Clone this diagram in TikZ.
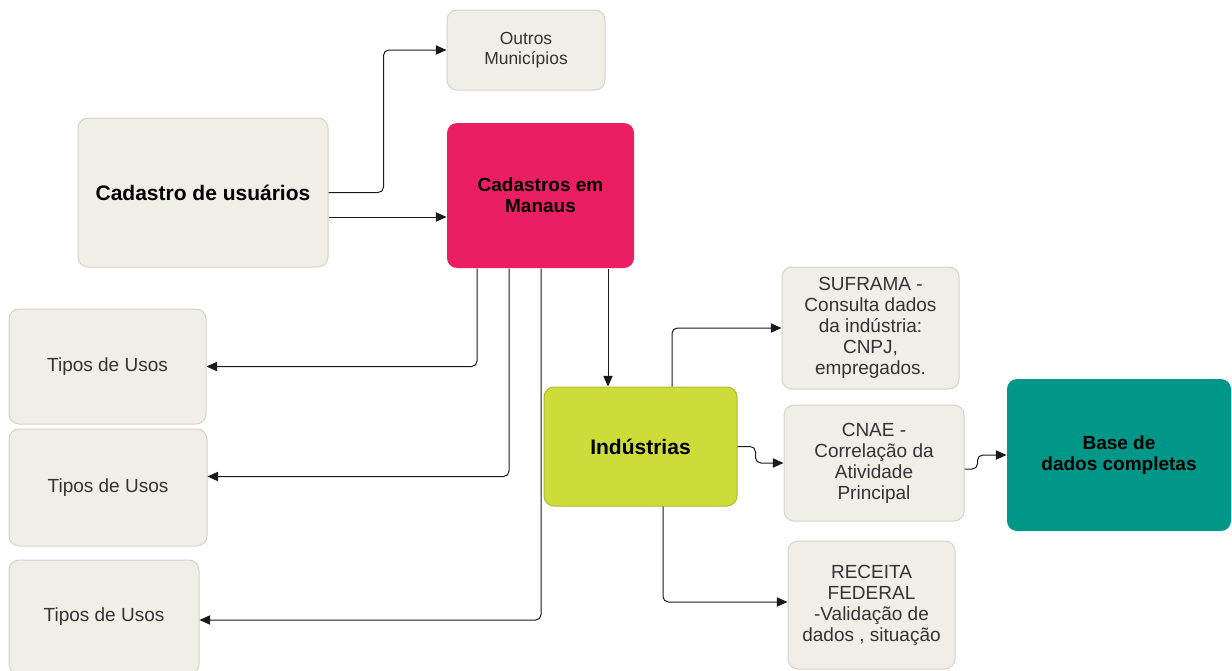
\documentclass[tikz,border=0pt]{standalone}
\usepackage{fontspec}
\setmainfont{Liberation Sans}
\usepackage{tikz}
\usetikzlibrary{arrows.meta,calc}

\definecolor{boxfill}{HTML}{F0EEE6}
\definecolor{boxline}{HTML}{D5D2C8}
\definecolor{txtgray}{HTML}{333333}
\definecolor{pinkbox}{HTML}{E91E63}
\definecolor{limebox}{HTML}{CDDC39}
\definecolor{tealbox}{HTML}{009688}
\definecolor{wire}{HTML}{1A1A1A}

\begin{document}
\begin{tikzpicture}[x=0.75pt,y=-0.75pt,
	card/.style={draw=boxline,fill=boxfill,rounded corners=7.5pt,line width=0.75pt,align=center,text=txtgray,
		font=\fontsize{14.25}{15.75}\selectfont,inner sep=2pt},
	hotbox/.style={card,draw=none,text=black,font=\bfseries\fontsize{14.25}{15.75}\selectfont},
	wirepath/.style={draw=wire,line width=0.75pt,rounded corners=4pt,-{Triangle[length=8pt,width=7pt]}}]
	\useasboundingbox (0,0) rectangle (1232,671);
	%
	\node[card,minimum width=158*0.75pt,minimum height=80*0.75pt,font=\fontsize{13.1}{15}\selectfont] (outros) at (526,50) {Outros\\Municípios};
	\node[card,minimum width=250*0.75pt,minimum height=149*0.75pt,text=black,font=\bfseries\fontsize{15.75}{18}\selectfont] (cadastro) at (203,192.5) {Cadastro de usuários};
	\node[hotbox,fill=pinkbox,minimum width=187*0.75pt,minimum height=145*0.75pt] (manaus) at (540.5,195.5) {Cadastros em\\Manaus};
	\node[card,minimum width=197*0.75pt,minimum height=115*0.75pt] (tipos1) at (107.5,366.5) {Tipos de Usos};
	\node[card,minimum width=198*0.75pt,minimum height=117*0.75pt] (tipos2) at (108,487.5) {Tipos de Usos};
	\node[card,minimum width=190*0.75pt,minimum height=114*0.75pt] (tipos3) at (104,617) {Tipos de Usos};
	\node[hotbox,fill=limebox,draw=limebox!85!black,minimum width=193*0.75pt,minimum height=119*0.75pt,font=\bfseries\fontsize{15.75}{18}\selectfont] (industrias) at (640.5,446.5) {Indústrias};
	\node[card,minimum width=177*0.75pt,minimum height=122*0.75pt] (suframa) at (870.5,328) {SUFRAMA -\\Consulta dados\\da indústria:\\CNPJ,\\empregados.};
	\node[card,minimum width=180*0.75pt,minimum height=116*0.75pt] (cnae) at (874,463) {CNAE -\\Correlação da\\Atividade\\Principal};
	\node[card,minimum width=167*0.75pt,minimum height=128*0.75pt] (receita) at (871.5,605) {RECEITA\\FEDERAL\\-Validação de\\dados , situação};
	\node[hotbox,fill=tealbox,minimum width=224*0.75pt,minimum height=152*0.75pt] (base) at (1119,455) {Base de\\dados completas};
	%
	\draw[wirepath] (cadastro.east) -- ++(55,0) |- (outros.west);
	\draw[wirepath] ($(cadastro.east)+(0,24.5)$) coordinate (c2) -- (c2 -| manaus.west);
	\draw[wirepath] ($(manaus.south)+(-63.5,0)$) |- (tipos1.east);
	\draw[wirepath] ($(manaus.south)+(-31.5,0)$) |- ($(tipos2.east)+(0,-11)$);
	\draw[wirepath] ($(manaus.south)+(0.5,0)$) |- ($(tipos3.east)+(0,3)$);
	\draw[wirepath] ($(manaus.south)+(67.5,0)$) coordinate (m4) -- (m4 |- industrias.north);
	\draw[wirepath] ($(industrias.north)+(31.5,0)$) |- (suframa.west);
	\draw[wirepath] (industrias.east) -- ++(18,0) |- (cnae.west);
	\draw[wirepath] ($(industrias.south)+(22.5,0)$) |- ($(receita.west)+(0,-3)$);
	\draw[wirepath] ($(cnae.east)+(0,6)$) -- ++(13,0) |- (base.west);
\end{tikzpicture}
\end{document}
